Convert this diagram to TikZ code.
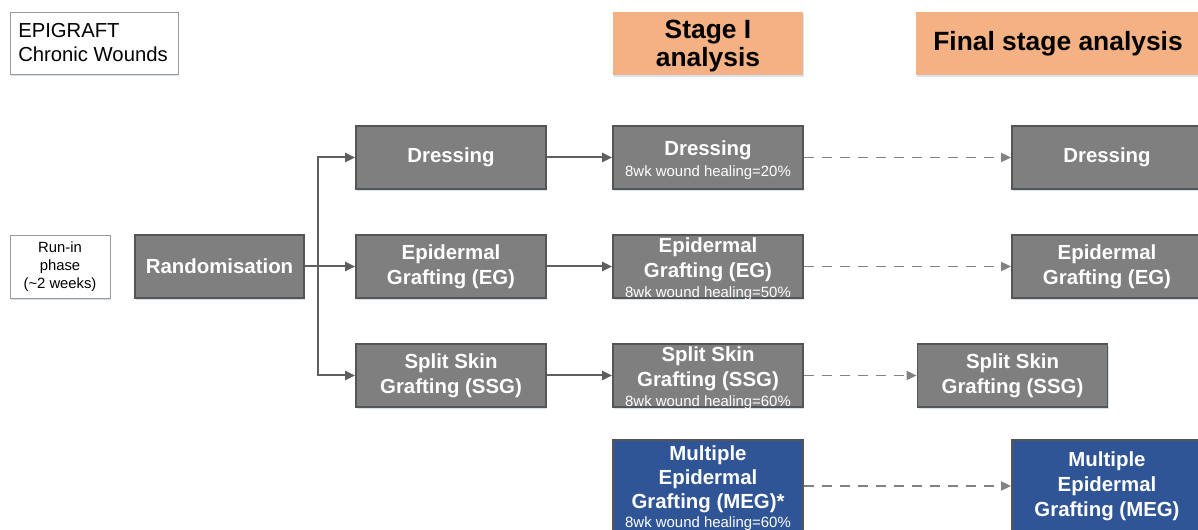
\documentclass[tikz,border=0pt]{standalone}
\usepackage{fontspec}
\setmainfont{Liberation Sans}
\usetikzlibrary{arrows.meta,shadows}
\definecolor{boxgray}{RGB}{127,127,127}
\definecolor{edgegray}{RGB}{85,85,85}
\definecolor{linegray}{RGB}{95,95,95}
\definecolor{megblue}{RGB}{47,85,151}
\definecolor{headorange}{RGB}{244,177,131}
\definecolor{shadowblue}{RGB}{214,225,242}
\definecolor{dashgray}{RGB}{130,130,130}
\tikzset{
  basebox/.style={rectangle, minimum width=142.5pt, minimum height=47.25pt,
    inner sep=0pt, align=center,
    general shadow={shadow xshift=1pt, shadow yshift=-1.8pt, fill=shadowblue}},
  graybox/.style={basebox, fill=boxgray, draw=edgegray, line width=1.4pt,
    text=white, font=\bfseries\fontsize{15.3}{18.75}\selectfont},
  % boxes whose text runs close to the edges keep their size
  tightbox/.style={inner ysep=-6pt},
  bluebox/.style={graybox, fill=megblue, minimum height=69pt},
  headbox/.style={basebox, fill=headorange, draw=none, text=black,
    font=\bfseries\fontsize{19.8}{21}\selectfont},
  notebox/.style={rectangle, draw=gray!80, fill=white, line width=0.7pt,
    inner sep=0pt, general shadow={shadow xshift=0.8pt, shadow yshift=-1.2pt, fill=shadowblue}},
  solidarrow/.style={draw=linegray, line width=1.5pt,
    -{Triangle[length=7.5pt,width=7pt]}},
  trunk/.style={draw=linegray, line width=1.5pt},
  dasharrow/.style={draw=dashgray, line width=1.3pt, dash pattern=on 7.5pt off 6pt,
    -{Triangle[length=7.5pt,width=6.8pt]}},
}
\newcommand{\subnote}[1]{{\fontsize{11.2}{12}\mdseries\selectfont #1}}
% taller first line pushes a block with a healing note slightly down
\newcommand{\toppad}{\rule{0pt}{15pt}}
\begin{document}
\begin{tikzpicture}[x=0.75pt,y=-0.75pt]
\useasboundingbox (0,0) rectangle (1198,530);
\clip (0,0) rectangle (1198,530);

% title and run-in boxes
\node[notebox, minimum width=126pt, minimum height=46.5pt] (title) at (94,43) {};
\node[anchor=west, align=left, font=\fontsize{15.2}{18}\selectfont, inner sep=0pt]
  (titletext) at (18,43) {EPIGRAFT\\Chronic Wounds};
\node[notebox, minimum width=75pt, minimum height=47.25pt, align=center,
  font=\fontsize{11.1}{13.5}\selectfont] (runin) at (60,266.5) {Run-in\\phase\\(\textasciitilde2 weeks)};

% headers
\node[headbox] (stage1) at (708,43.5) {\rule{0pt}{17pt}Stage I\\analysis};
\node[headbox, minimum width=213pt] (final) at (1058,43.5) {Final stage analysis};

% randomisation and first column
\node[graybox, minimum width=126.75pt] (rand) at (219.5,266.5) {Randomisation};
\node[graybox] (d1) at (451,157.5) {Dressing};
\node[graybox] (e1) at (451,266.5) {Epidermal\\Grafting (EG)};
\node[graybox] (s1) at (451,375.5) {Split Skin\\Grafting (SSG)};

% stage I column
\node[graybox, tightbox] (d2) at (708,157.5) {\toppad Dressing\\[-3.5pt]\subnote{8wk wound healing=20\%}};
\node[graybox, tightbox] (e2) at (708,266.5) {\toppad Epidermal\\Grafting (EG)\\[-3.75pt]\subnote{8wk wound healing=50\%}};
\node[graybox, tightbox] (s2) at (708,375.5) {\toppad Split Skin\\Grafting (SSG)\\[-3.75pt]\subnote{8wk wound healing=60\%}};
\node[bluebox, tightbox, font=\bfseries\fontsize{15.3}{18}\selectfont] (m2) at (708,486)
  {\toppad Multiple\\Epidermal\\Grafting (MEG)*\\[-3.75pt]\subnote{8wk wound healing=60\%}};

% final stage column
\node[graybox] (d3) at (1107,157.5) {Dressing};
\node[graybox] (e3) at (1107,266.5) {Epidermal\\Grafting (EG)};
\node[graybox] (s3) at (1012.5,375.5) {Split Skin\\Grafting (SSG)};
\node[bluebox] (m3) at (1107,486) {Multiple\\Epidermal\\Grafting (MEG)};

% randomisation split
\coordinate (split) at (318,266.5);
\draw[trunk] (rand.east) -- (split);
\draw[solidarrow] (split) |- (d1.west);
\draw[solidarrow] (split) -- (e1.west);
\draw[solidarrow] (split) |- (s1.west);

% first column to stage I
\draw[solidarrow] (d1.east) -- (d2.west);
\draw[solidarrow] (e1.east) -- (e2.west);
\draw[solidarrow] (s1.east) -- (s2.west);

% stage I to final stage
\draw[dasharrow] (d2.east) -- (d3.west);
\draw[dasharrow] (e2.east) -- (e3.west);
\draw[dasharrow] (s2.east) -- (s3.west);
\draw[dasharrow] (m2.east) -- (m3.west);
\end{tikzpicture}
\end{document}
